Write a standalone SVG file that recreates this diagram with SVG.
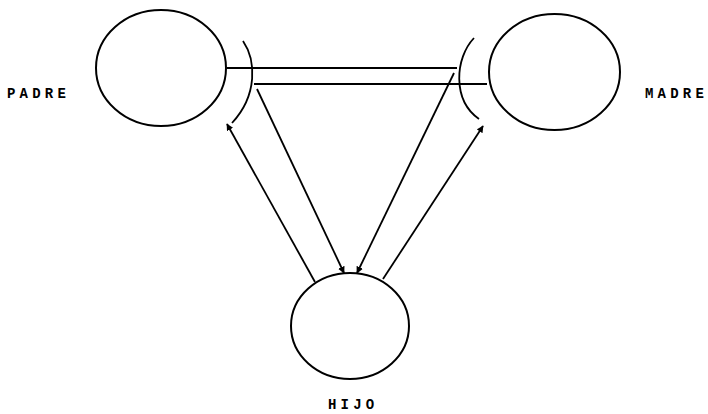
<svg xmlns="http://www.w3.org/2000/svg" width="708" height="414" viewBox="0 0 708 414">
<defs>
<marker id="ah" viewBox="0 0 10 10" refX="9" refY="5" markerWidth="7" markerHeight="7" orient="auto" markerUnits="userSpaceOnUse">
<path d="M0,0 L10,5 L0,10 z" fill="#000"/>
</marker>
<style>
.n{fill:none;stroke:#000;stroke-width:2}
.c{fill:none;stroke:#000;stroke-width:1.8}
.t{font-family:"Liberation Mono",monospace;font-size:14px;font-weight:bold;letter-spacing:4.2px;fill:#000}
</style>
</defs>
<rect width="708" height="414" fill="#fff"/>
<g id="padre">
<ellipse class="n" cx="161" cy="68" rx="65" ry="58"/>
<text class="t" x="7" y="98">PADRE</text>
</g>
<g id="madre">
<ellipse class="n" cx="554.5" cy="72" rx="65.5" ry="58"/>
<text class="t" x="645" y="98">MADRE</text>
</g>
<g id="hijo">
<ellipse class="n" cx="350" cy="326" rx="59" ry="53"/>
<text class="t" x="328" y="409">HIJO</text>
</g>
<g id="connectors">
<path class="c" d="M243,41 C256,60 258,95 232,123"/>
<path class="c" d="M474,38 C455,58 452,100 479,119"/>
<line class="c" x1="227" y1="68" x2="457" y2="68"/>
<line class="c" x1="254" y1="84" x2="487" y2="84"/>
<line class="c" x1="257" y1="89" x2="344" y2="273" marker-end="url(#ah)"/>
<line class="c" x1="454" y1="73" x2="357" y2="273" marker-end="url(#ah)"/>
<line class="c" x1="315" y1="282" x2="227" y2="124" marker-end="url(#ah)"/>
<line class="c" x1="383" y1="279" x2="483" y2="126" marker-end="url(#ah)"/>
</g>
</svg>
